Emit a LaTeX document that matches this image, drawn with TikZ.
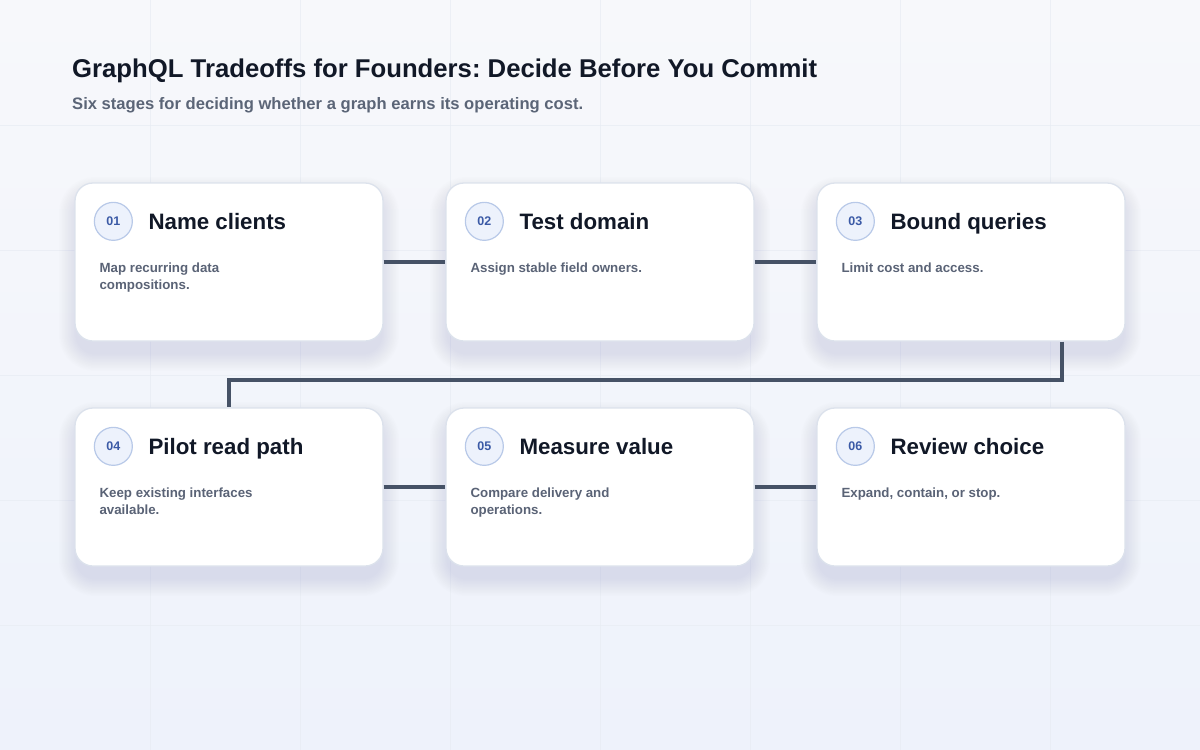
\documentclass[tikz,border=0pt]{standalone}
\usepackage{fontspec}
\setmainfont{Liberation Sans}
\frenchspacing
\usetikzlibrary{calc}
\definecolor{bgA}{HTML}{F7F8FB}
\definecolor{bgB}{HTML}{EEF2FB}
\definecolor{gridc}{HTML}{E8ECF3}
\definecolor{cardborder}{HTML}{DCE2EC}
\definecolor{shadowc}{HTML}{76819E}
\definecolor{titlec}{HTML}{111827}
\definecolor{subc}{HTML}{5B6577}
\definecolor{descc}{HTML}{5A6376}
\definecolor{numc}{HTML}{3B5AA6}
\definecolor{numfill}{HTML}{EDF2FC}
\definecolor{numborder}{HTML}{B8C9E8}
\definecolor{linkc}{HTML}{465266}
\tikzset{
  card/.style={draw=cardborder, line width=1.3pt, fill=white, rounded corners=18pt,
    minimum width=308pt, minimum height=158pt, inner sep=0pt},
  numdisc/.style={circle, draw=numborder, line width=1.2pt, fill=numfill,
    minimum size=38pt, inner sep=0pt, text=numc,
    font=\fontsize{12.5}{14}\selectfont\bfseries},
  cardtitle/.style={anchor=base west, inner sep=0pt, text=titlec,
    font=\fontsize{22.3}{26}\selectfont\bfseries},
  carddesc/.style={anchor=north west, inner sep=0pt, text=descc, align=left,
    font=\fontsize{13.3}{17}\selectfont\bfseries},
  link/.style={draw=linkc, line width=4pt}
}
\begin{document}
\begin{tikzpicture}[x=1pt,y=-1pt]
\useasboundingbox (0,0) rectangle (1200,750);
\shade[top color=bgA, bottom color=bgB] (0,0) rectangle (1200,750);
% faint grid
\foreach \gx in {150,300,...,1050} \draw[gridc, line width=0.8pt, opacity=0.7] (\gx,0) -- (\gx,750);
\foreach \gy in {125,250,...,625} \draw[gridc, line width=0.8pt, opacity=0.7] (0,\gy) -- (1200,\gy);
% title
\node[anchor=base west, inner sep=0pt, text=titlec, font=\fontsize{25.7}{30}\selectfont\bfseries] (title) at (72,77) {GraphQL Tradeoffs for Founders: Decide Before You Commit};
\node[anchor=base west, inner sep=0pt, text=subc, font=\fontsize{16.6}{20}\selectfont\bfseries] (subtitle) at (72,109) {Six stages for deciding whether a graph earns its operating cost.};
% shadows
\foreach \cx/\cy in {229/262,600/262,971/262,229/487,600/487,971/487}{
  \foreach \i in {1,...,12}{
    \fill[shadowc, opacity=0.011, rounded corners=18pt+1.5*\i pt]
      (\cx-152-1.5*\i,\cy-79-1.5*\i+12) rectangle (\cx+152+1.5*\i,\cy+79+1.5*\i+12);
  }
}
% cards
\node[card] (c1) at (229,262) {};
\node[card] (c2) at (600,262) {};
\node[card] (c3) at (971,262) {};
\node[card] (c4) at (229,487) {};
\node[card] (c5) at (600,487) {};
\node[card] (c6) at (971,487) {};
% connectors
\draw[link] (c1.east) -- (c2.west);
\draw[link] (c2.east) -- (c3.west);
\draw[link] (c4.east) -- (c5.west);
\draw[link] (c5.east) -- (c6.west);
\draw[link] ([xshift=91pt]c3.south) -- ++(0,38) -| (c4.north);
% contents
\foreach \k/\num/\ttl/\desc in {
  c1/01/Name clients/{Map recurring data\\compositions.},
  c2/02/Test domain/{Assign stable field owners.},
  c3/03/Bound queries/{Limit cost and access.},
  c4/04/Pilot read path/{Keep existing interfaces\\available.},
  c5/05/Measure value/{Compare delivery and\\operations.},
  c6/06/Review choice/{Expand, contain, or stop.}}{
  \node[numdisc] (\k n) at ([shift={(39,39)}]\k.north west) {\num};
  \node[cardtitle] (\k t) at ([shift={(74,47)}]\k.north west) {\ttl};
  \node[carddesc] (\k d) at ([shift={(25,78)}]\k.north west) {\strut\desc};
}
\end{tikzpicture}
\end{document}
